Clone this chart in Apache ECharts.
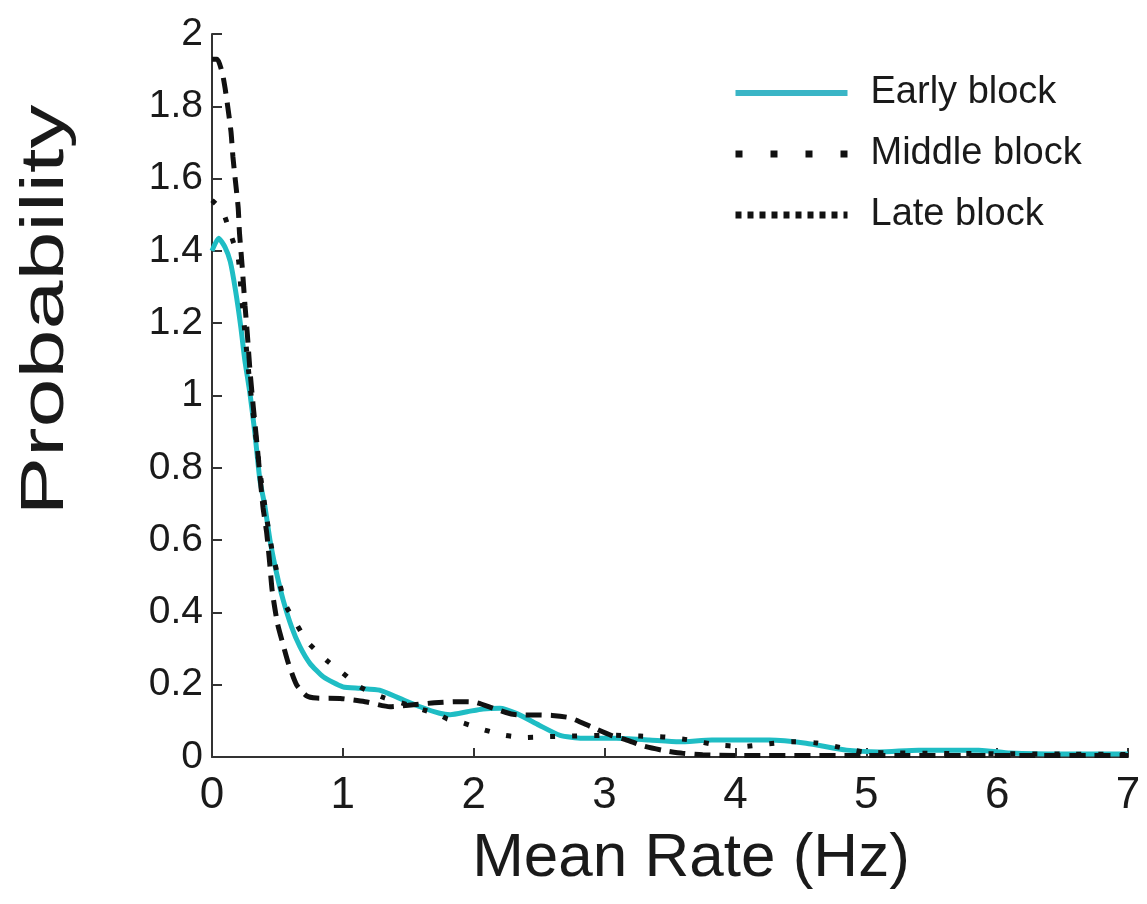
<!DOCTYPE html>
<html>
<head>
<meta charset="utf-8">
<script src="https://cdn.jsdelivr.net/npm/echarts@6/dist/echarts.min.js"></script>
<style>
  html, body { margin: 0; padding: 0; background: #fff; }
  #chart { width: 1147px; height: 904px; }
</style>
</head>
<body>
<div id="chart"></div>
<script>
const FONT = "'Liberation Sans', Arial, Helvetica, sans-serif"
const COLORS = { text: '#1a1a1a', axis: '#333333', early: '#1fbdc4', dark: '#111111' }

const seriesNames = ['Early block', 'Middle block', 'Late block']
const xTicks = [0, 1, 2, 3, 4, 5, 6, 7]

// [rate (Hz), probability]
const earlyBlock = [
  [0, 1.40], [0.05, 1.435], [0.1, 1.41], [0.14, 1.37], [0.18, 1.29], [0.22, 1.19],
  [0.25, 1.10], [0.29, 1.006], [0.328, 0.895], [0.366, 0.766], [0.405, 0.692],
  [0.443, 0.60], [0.494, 0.508], [0.544, 0.434], [0.608, 0.36], [0.672, 0.305],
  [0.748, 0.259], [0.85, 0.222], [1.0, 0.194], [1.13, 0.19], [1.28, 0.185],
  [1.435, 0.162], [1.59, 0.139], [1.74, 0.121], [1.82, 0.117], [1.95, 0.125],
  [2.07, 0.133], [2.2, 0.135], [2.33, 0.12], [2.5, 0.088], [2.66, 0.06],
  [2.83, 0.052], [3.09, 0.052], [3.34, 0.047], [3.57, 0.042], [3.82, 0.047],
  [4.26, 0.047], [4.54, 0.038], [4.85, 0.019], [5.1, 0.014], [5.4, 0.019],
  [5.86, 0.019], [6.1, 0.011], [6.5, 0.008], [7, 0.008]
]
const middleBlock = [
  [0, 1.54], [0.08, 1.51], [0.13, 1.46], [0.2, 1.38], [0.22, 1.30], [0.25, 1.18],
  [0.29, 1.03], [0.33, 0.90], [0.37, 0.78], [0.41, 0.68], [0.46, 0.57], [0.52, 0.475],
  [0.57, 0.415], [0.65, 0.365], [0.73, 0.318], [0.8, 0.293], [0.89, 0.263],
  [1.0, 0.232], [1.13, 0.194], [1.3, 0.166], [1.5, 0.144], [1.62, 0.13],
  [1.74, 0.116], [1.8, 0.105], [1.92, 0.094], [2.08, 0.075], [2.24, 0.06],
  [2.4, 0.054], [2.55, 0.056], [2.75, 0.058], [3.06, 0.06], [3.27, 0.058],
  [3.47, 0.055], [3.67, 0.046], [3.85, 0.034], [4.05, 0.029], [4.24, 0.036],
  [4.44, 0.042], [4.62, 0.039], [4.82, 0.025], [4.98, 0.014], [5.25, 0.011],
  [5.5, 0.01], [6, 0.009], [6.5, 0.008], [7, 0.007]
]
const lateBlock = [
  [0, 1.93], [0.04, 1.93], [0.08, 1.89], [0.1, 1.85], [0.12, 1.80], [0.145, 1.73],
  [0.16, 1.66], [0.18, 1.59], [0.2, 1.52], [0.21, 1.45], [0.23, 1.36], [0.252, 1.25],
  [0.27, 1.17], [0.29, 1.07], [0.315, 0.97], [0.34, 0.88], [0.366, 0.78], [0.39, 0.69],
  [0.418, 0.62], [0.44, 0.54], [0.46, 0.46], [0.5, 0.37], [0.544, 0.31], [0.583, 0.26],
  [0.646, 0.20], [0.72, 0.17], [0.8, 0.163], [0.98, 0.162], [1.17, 0.153],
  [1.36, 0.139], [1.5, 0.143], [1.7, 0.15], [1.87, 0.153], [2.0, 0.152],
  [2.15, 0.135], [2.3, 0.118], [2.5, 0.116], [2.6, 0.115], [2.74, 0.108],
  [2.9, 0.083], [3.05, 0.06], [3.17, 0.047], [3.3, 0.03], [3.45, 0.018],
  [3.6, 0.01], [3.75, 0.006], [4.0, 0.004], [5, 0.004], [6, 0.004], [7, 0.004]
]

const chart = echarts.init(document.getElementById('chart'))

chart.setOption({
  animation: false,
  backgroundColor: '#fff',
  grid: { left: 212, right: 19, top: 34, bottom: 147 },
  legend: {
    left: 727,
    top: 68,
    orient: 'vertical',
    itemWidth: 112,
    itemHeight: 20,
    itemGap: 21,
    textStyle: {
      fontFamily: FONT, fontSize: 38, lineHeight: 40, color: COLORS.text,
      padding: [0, 0, 0, 18]
    },
    data: [
      { name: seriesNames[0], itemStyle: { opacity: 0 }, lineStyle: { color: '#3ab5c6', width: 6, type: 'solid' } },
      { name: seriesNames[1], itemStyle: { opacity: 0 }, lineStyle: { color: COLORS.dark, width: 7, type: [7, 28] } },
      { name: seriesNames[2], itemStyle: { opacity: 0 }, lineStyle: { color: COLORS.dark, width: 7, type: [6, 6] } }
    ]
  },
  xAxis: {
    type: 'value',
    min: 0,
    max: 7,
    interval: 1,
    name: 'Mean Rate (Hz)',
    nameLocation: 'middle',
    nameGap: 70,
    nameTextStyle: {
      fontFamily: FONT, fontSize: 62, lineHeight: 64, color: COLORS.text,
      padding: [0, 0, 0, 42]
    },
    axisLine: { lineStyle: { color: COLORS.axis, width: 2 } },
    axisTick: { inside: true, length: 9, lineStyle: { color: COLORS.axis, width: 2 } },
    axisLabel: {
      fontFamily: FONT, fontSize: 44, lineHeight: 44, color: COLORS.text, margin: 17,
      formatter: v => String(xTicks[v] ?? v)
    },
    splitLine: { show: false }
  },
  yAxis: {
    type: 'value',
    min: 0,
    max: 2,
    interval: 0.2,
    axisLine: { show: true, lineStyle: { color: COLORS.axis, width: 2 } },
    axisTick: { show: true, inside: true, length: 10, lineStyle: { color: COLORS.axis, width: 2 } },
    axisLabel: {
      fontFamily: FONT, fontSize: 39, color: COLORS.text, margin: 9,
      padding: [0, 0, 14, 0]
    },
    splitLine: { show: false }
  },
  graphic: [{
    type: 'text',
    x: 46,
    y: 310,
    rotation: Math.PI / 2,
    scaleX: 1.42,
    style: {
      text: 'Probability',
      fontFamily: FONT,
      fontSize: 62,
      fill: COLORS.text,
      align: 'center',
      verticalAlign: 'middle'
    }
  }],
  series: [
    {
      name: seriesNames[0], type: 'line', data: earlyBlock, smooth: 0.2,
      symbol: 'none', z: 3,
      lineStyle: { color: COLORS.early, width: 5 }
    },
    {
      name: seriesNames[1], type: 'line', data: middleBlock, smooth: 0.2,
      symbol: 'none', z: 4,
      lineStyle: { color: COLORS.dark, width: 5, type: [5, 17] }
    },
    {
      name: seriesNames[2], type: 'line', data: lateBlock, smooth: 0.2,
      symbol: 'none', z: 4,
      lineStyle: { color: COLORS.dark, width: 5, type: [16, 9] }
    }
  ]
})
</script>
</body>
</html>
